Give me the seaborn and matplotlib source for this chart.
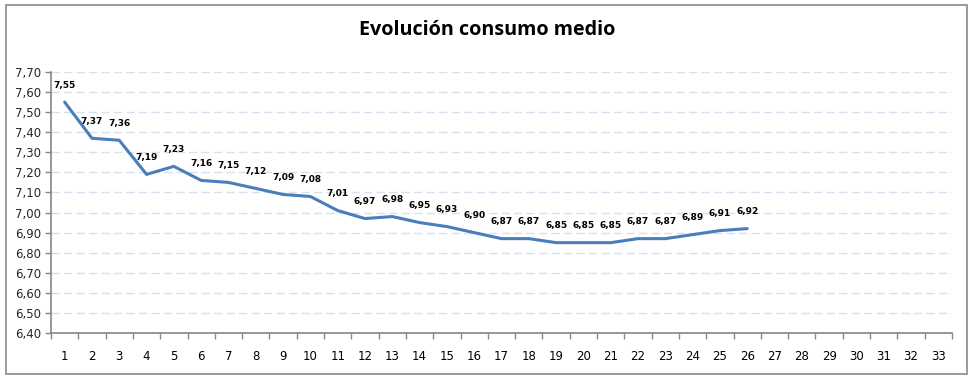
import matplotlib
matplotlib.use("Agg")
import matplotlib.pyplot as plt
import seaborn as sns
import numpy as np
import pandas as pd
from matplotlib.patches import Rectangle
from matplotlib.ticker import FixedLocator, FuncFormatter

title = "Evolución consumo medio"
categories = list(range(1, 34))
points = list(range(1, 27))
values = [7.55, 7.37, 7.36, 7.19, 7.23, 7.16, 7.15, 7.12, 7.09, 7.08, 7.01, 6.97, 6.98,
          6.95, 6.93, 6.90, 6.87, 6.87, 6.85, 6.85, 6.85, 6.87, 6.87, 6.89, 6.91, 6.92]
y_ticks = [round(6.4 + 0.1 * i, 2) for i in range(14)]

sns.set_theme(style="white")
plt.rcParams['font.family'] = ['DejaVu Sans']

fig = plt.figure(figsize=(9.74, 3.80), dpi=100)
fig.patch.set_facecolor("white")
fig.patches.append(Rectangle((6 / 974, 1 - 374 / 380), (967 - 6) / 974, (374 - 5) / 380,
                             transform=fig.transFigure, fill=False, edgecolor="#8a8a8a",
                             linewidth=1.2, zorder=0))

ax = fig.add_axes([51 / 974, (380 - 333) / 380, (952 - 51) / 974, (333 - 72) / 380])
df = pd.DataFrame({"x": points, "y": values})
sns.lineplot(data=df, x="x", y="y", ax=ax, color="#4A7EBB", linewidth=2.2)

ax.set_xlim(0.5, 33.5)
ax.set_ylim(6.4, 7.7)
ax.set_yticks(y_ticks)
ax.yaxis.set_major_formatter(FuncFormatter(lambda v, p: f"{v:.2f}".replace(".", ",")))
ax.set_xticks(categories)
ax.set_xticklabels([str(c) for c in categories])
ax.xaxis.set_minor_locator(FixedLocator([c + 0.5 for c in range(0, 34)]))
ax.tick_params(axis="x", which="major", length=0, pad=12, labelsize=8.5, colors="#000000")
ax.tick_params(axis="x", which="minor", length=4, width=1, color="#868686", bottom=True)
ax.tick_params(axis="y", which="major", length=4, width=1, color="#868686", left=True,
               labelsize=8.5, pad=3)
ax.set_xlabel("")
ax.set_ylabel("")

for s in ["top", "right"]:
    ax.spines[s].set_visible(False)
for s in ["left", "bottom"]:
    ax.spines[s].set_color("#868686")
    ax.spines[s].set_linewidth(1.2)

for yv in y_ticks[1:]:
    ax.axhline(yv, color="#D6E1F0", linewidth=1.0, linestyle=(0, (6, 3)), zorder=0)

for xv, yv in zip(points, values):
    ax.annotate(f"{yv:.2f}".replace(".", ","), (xv, yv), xytext=(0, 12),
                textcoords="offset points", ha="center", va="center",
                fontsize=6.5, fontweight="bold", color="#000000")

fig.text(487 / 974, 1 - 30 / 380, title, ha="center", va="center",
         fontsize=14.2, fontweight="bold", family=["Open Sans", "DejaVu Sans"], color="#000000")

fig.savefig("out.png", dpi=100, facecolor="white")
